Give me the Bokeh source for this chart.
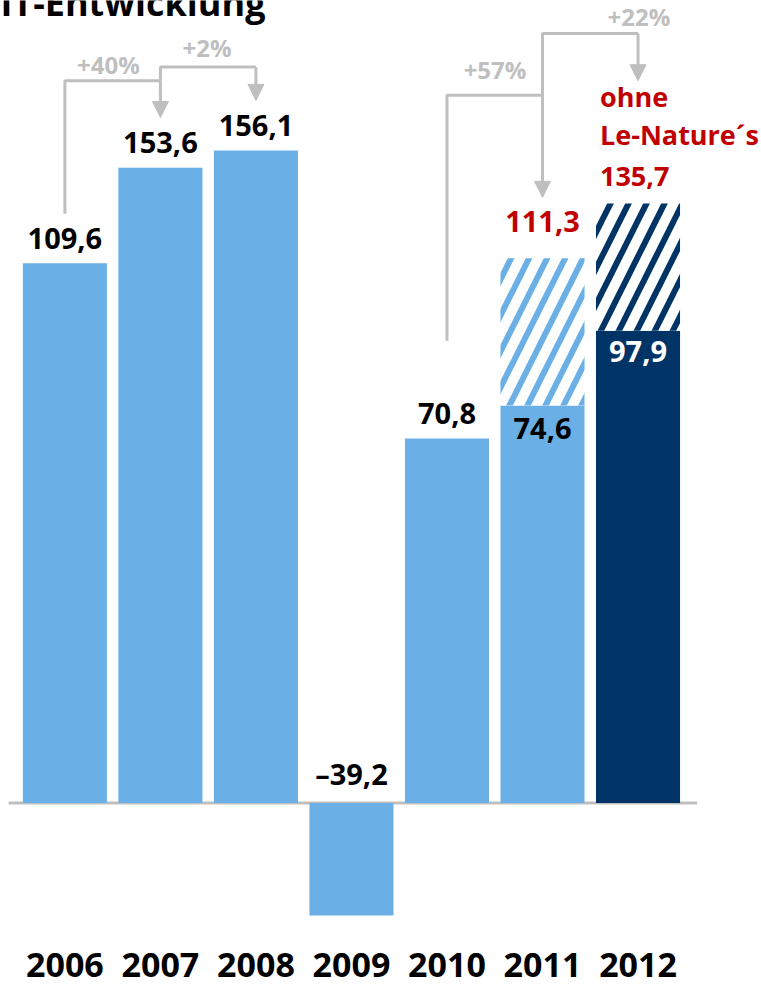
from bokeh.plotting import figure
from bokeh.models import Range1d, Label, Arrow, NormalHead
from bokeh.embed import file_html
from bokeh.resources import INLINE
from bokeh.core.properties import value

# ---------------- data ----------------
years = ["2006", "2007", "2008", "2009", "2010", "2011", "2012"]
ebit = [109.6, 153.6, 156.1, -39.2, 70.8, 74.6, 97.9]          # printed values
# bar heights as drawn in the original picture (the original is not to scale)
ebit_drawn = [129.1, 152.0, 156.1, -26.9, 87.2, 95.1, 113.0]
excl_years = ["2011", "2012"]
ebit_excl = [111.3, 135.7]                                      # "ohne Le-Nature´s"
ebit_excl_drawn = [130.3, 143.4]
growth = ["+40%", "+2%", "+57%", "+22%"]
growth_from = ["2006", "2007", "2010", "2011"]
growth_to = ["2007", "2008", "2011", "2012"]
title_text = "EBIT-Entwicklung"
excl_note = ["ohne", "Le-Nature´s"]

# ---------------- style ----------------
LIGHT = "#6AB0E6"
NAVY = "#003366"
RED = "#C00000"
GRAY = "#BFBFBF"
FONT_NAME = "Open Sans"
FONT = value(FONT_NAME)
BAR_W = 0.88
W, H = 761, 988


def corr(size):
    # baseline correction for the rendered font (px, upward)
    return round(0.4 * size)


def fmt(v):
    s = f"{abs(v):.1f}".replace(".", ",")
    return ("\u2013" + s) if v < 0 else s


xs = list(range(len(years)))
idx = {y: i for i, y in enumerate(years)}

p = figure(width=W, height=H, x_range=Range1d(-0.6742, 7.2927),
           y_range=Range1d(-44.38, 191.99), output_backend="svg",
           toolbar_location=None, min_border=0, title=None)
p.axis.visible = False
p.grid.visible = False
p.outline_line_color = None
p.background_fill_color = "white"
p.border_fill_color = "white"

# zero line
p.segment(x0=[-0.59], y0=[0], x1=[6.62], y1=[0], line_color=GRAY, line_width=3)

# main bars
colors = [NAVY if y == "2012" else LIGHT for y in years]
p.vbar(x=xs, top=ebit_drawn, bottom=0, width=BAR_W, fill_color=colors, line_color=None)

# hatched "ohne Le-Nature's" parts
ex_x = [idx[y] for y in excl_years]
ex_bottom = [ebit_drawn[idx[y]] for y in excl_years]
ex_col = [NAVY if y == "2012" else LIGHT for y in excl_years]
for x, b, t, c in zip(ex_x, ex_bottom, ebit_excl_drawn, ex_col):
    p.vbar(x=[x], bottom=[b], top=[t], width=BAR_W, fill_color="white",
           line_color=None, hatch_pattern="/", hatch_color=c,
           hatch_scale=36, hatch_weight=6)

# value labels
VS = 29
for i, (v, d) in enumerate(zip(ebit, ebit_drawn)):
    y = years[i]
    if y in excl_years:
        yoff = 35 if y == "2011" else 33
        col = "white" if y == "2012" else "black"
        yy = d
    elif v < 0:
        yy, yoff, col = 0, -17, "black"
    else:
        yy, yoff, col = d, -13, "black"
    p.text(x=[i], y=[yy], text=[fmt(v)], text_align="center",
           text_baseline="alphabetic", y_offset=yoff - corr(VS), text_color=col,
           text_font=FONT, text_font_style="bold", text_font_size=f"{VS}px")

# red labels
p.text(x=[idx["2011"]], y=[ebit_excl_drawn[0]], text=[fmt(ebit_excl[0])],
       text_align="center", text_baseline="alphabetic", y_offset=-25 - corr(VS),
       text_color=RED, text_font=FONT, text_font_style="bold", text_font_size=f"{VS}px")
RS = 27
x12 = idx["2012"] - BAR_W / 2
for txt, yoff in zip(excl_note + [fmt(ebit_excl[1])], [-96, -58, -16]):
    p.text(x=[x12], y=[ebit_excl_drawn[1]], text=[txt], text_align="left",
           text_baseline="alphabetic", x_offset=4, y_offset=yoff - corr(RS),
           text_color=RED, text_font=FONT, text_font_style="bold",
           text_font_size=f"{RS}px")

# growth connectors: (start y, bracket y, arrow tip y)
conn = [(141.0, 172.8, 164.0), (172.8, 176.1, 168.1),
        (110.6, 169.3, 144.9), (164.5, 184.1, 172.8)]
label_pos = [(-0.044, 6), (-0.012, 9), (0.003, 16), (0.51, 7)]
GS = 24
for g, f, t, (y0, yb, yt), (dx, dy) in zip(growth, growth_from, growth_to, conn, label_pos):
    x0, x1 = idx[f], idx[t]
    p.line(x=[x0, x0, x1], y=[y0, yb, yb], line_color=GRAY, line_width=3)
    p.add_layout(Arrow(end=NormalHead(size=16, fill_color=GRAY, line_color=GRAY, line_width=1),
                       x_start=x1, y_start=yb, x_end=x1, y_end=yt,
                       line_color=GRAY, line_width=3))
    p.text(x=[(x0 + x1) / 2 + dx], y=[yb], text=[g], text_align="center",
           text_baseline="alphabetic", y_offset=-dy - corr(GS), text_color=GRAY,
           text_font=FONT, text_font_style="bold", text_font_size=f"{GS}px")

# year labels
YS = 34
p.text(x=xs, y=[-42.0] * len(xs), text=years, text_align="center",
       text_baseline="alphabetic", y_offset=-corr(YS), text_color="black",
       text_font=FONT, text_font_style="bold", text_font_size=f"{YS}px")

# title (cut at the top-left, as in the original)
TS = 36
p.add_layout(Label(x=265, y=H - 16 + corr(TS), x_units="screen", y_units="screen",
                   text=title_text, text_align="right", text_baseline="alphabetic",
                   text_font=FONT_NAME, text_font_style="bold", text_font_size=f"{TS}px",
                   text_color="black"))

open("out.html", "w").write(file_html(p, INLINE))
